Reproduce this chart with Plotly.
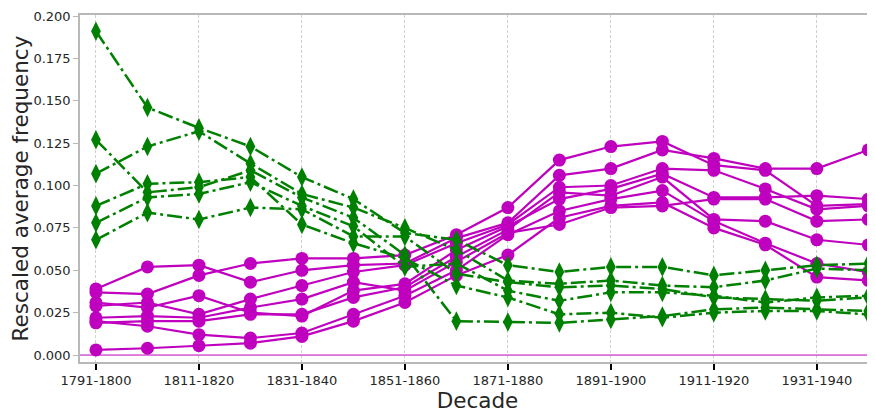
import plotly.graph_objects as go

decades = ["1791-1800", "1801-1810", "1811-1820", "1821-1830", "1831-1840", "1841-1850",
           "1851-1860", "1861-1870", "1871-1880", "1881-1890", "1891-1900", "1901-1910",
           "1911-1920", "1921-1930", "1931-1940", "1941-1950"]
tick_labels = decades[::2]

green_1 = [0.191, 0.146, 0.134, 0.123, 0.105, 0.092, 0.072, 0.068, 0.053, 0.049, 0.052, 0.052, 0.047, 0.050, 0.053, 0.054]
green_2 = [0.107, 0.123, 0.132, 0.113, 0.095, 0.087, 0.075, 0.062, 0.044, 0.042, 0.044, 0.041, 0.040, 0.044, 0.051, 0.050]
green_3 = [0.127, 0.096, 0.099, 0.109, 0.093, 0.081, 0.059, 0.020, 0.0195, 0.019, 0.021, 0.023, 0.027, 0.028, 0.027, 0.026]
green_4 = [0.088, 0.101, 0.102, 0.105, 0.077, 0.066, 0.057, 0.041, 0.034, 0.024, 0.025, 0.022, 0.025, 0.026, 0.026, 0.024]
green_5 = [0.078, 0.093, 0.095, 0.102, 0.088, 0.076, 0.052, 0.054, 0.038, 0.032, 0.037, 0.037, 0.035, 0.031, 0.034, 0.035]
green_6 = [0.068, 0.084, 0.080, 0.087, 0.086, 0.070, 0.070, 0.048, 0.043, 0.040, 0.041, 0.039, 0.034, 0.033, 0.032, 0.034]

magenta_1 = [0.039, 0.052, 0.053, 0.043, 0.050, 0.053, 0.054, 0.069, 0.078, 0.106, 0.110, 0.121, 0.116, 0.110, 0.110, 0.121]
magenta_2 = [0.037, 0.036, 0.047, 0.054, 0.057, 0.057, 0.059, 0.071, 0.087, 0.115, 0.123, 0.126, 0.112, 0.109, 0.088, 0.089]
magenta_3 = [0.029, 0.031, 0.024, 0.033, 0.041, 0.049, 0.053, 0.066, 0.077, 0.099, 0.100, 0.110, 0.109, 0.098, 0.086, 0.088]
magenta_4 = [0.031, 0.028, 0.035, 0.025, 0.023, 0.038, 0.042, 0.062, 0.076, 0.092, 0.098, 0.107, 0.093, 0.093, 0.094, 0.092]
magenta_5 = [0.022, 0.023, 0.022, 0.028, 0.033, 0.043, 0.038, 0.055, 0.072, 0.077, 0.087, 0.088, 0.092, 0.092, 0.079, 0.080]
magenta_6 = [0.019, 0.020, 0.020, 0.024, 0.024, 0.034, 0.040, 0.058, 0.074, 0.096, 0.094, 0.105, 0.080, 0.079, 0.068, 0.065]
magenta_7 = [0.020, 0.017, 0.012, 0.010, 0.013, 0.024, 0.035, 0.050, 0.071, 0.085, 0.092, 0.097, 0.079, 0.066, 0.054, 0.049]
magenta_8 = [0.003, 0.004, 0.0055, 0.007, 0.011, 0.020, 0.031, 0.047, 0.059, 0.081, 0.088, 0.090, 0.075, 0.065, 0.046, 0.044]

green_series = [green_1, green_2, green_3, green_4, green_5, green_6]
magenta_series = [magenta_1, magenta_2, magenta_3, magenta_4, magenta_5, magenta_6, magenta_7, magenta_8]

GREEN = "#008000"
MAGENTA = "#BF00BF"

fig = go.Figure()
for s in magenta_series:
    fig.add_trace(go.Scatter(x=decades, y=s, mode="lines+markers",
                             line=dict(color=MAGENTA, width=2.2),
                             marker=dict(symbol="circle", size=13, color=MAGENTA),
                             cliponaxis=False, showlegend=False))
for s in green_series:
    fig.add_trace(go.Scatter(x=decades, y=s, mode="lines+markers",
                             line=dict(color=GREEN, width=2.5, dash="15px,4px,3px,4px"),
                             marker=dict(symbol="diamond-tall", size=14, color=GREEN),
                             cliponaxis=False, showlegend=False))

fig.add_hline(y=0, line=dict(color=MAGENTA, width=1))

# page body has an 8px default margin, so the figure is sized/offset to compensate
fig.update_layout(
    width=867, height=406,
    margin=dict(l=72, r=0, t=7, b=52),
    paper_bgcolor="white", plot_bgcolor="white",
    font=dict(family="DejaVu Sans", color="#262626", size=12),
    showlegend=False,
)
fig.update_xaxes(
    type="category",
    range=[-0.31, 15.13],
    automargin=False,
    tickmode="array", tickvals=tick_labels, ticktext=tick_labels,
    ticks="outside", ticklen=6, tickwidth=2, tickcolor="black",
    showline=True, linecolor="#b8b8b8", linewidth=1.5, mirror=True,
    showgrid=True, gridcolor="#d0d0d0", griddash="3px,2px", gridwidth=0.8,
    tickfont=dict(size=13),
    title=dict(text="Decade", font=dict(size=21.5), standoff=5),
)
fig.update_yaxes(
    range=[-0.0041, 0.2006],
    automargin=False,
    tickmode="array", tickvals=[0, 0.025, 0.05, 0.075, 0.1, 0.125, 0.15, 0.175, 0.2],
    tickformat=".3f",
    ticks="outside", ticklen=5, tickwidth=1, tickcolor="#b8b8b8",
    showline=True, linecolor="#b8b8b8", linewidth=1.5,
    showgrid=False, zeroline=False,
    tickfont=dict(size=13),
    title=dict(text="Rescaled average frequency", font=dict(size=21.5), standoff=5),
)

fig.write_html("out.html")
